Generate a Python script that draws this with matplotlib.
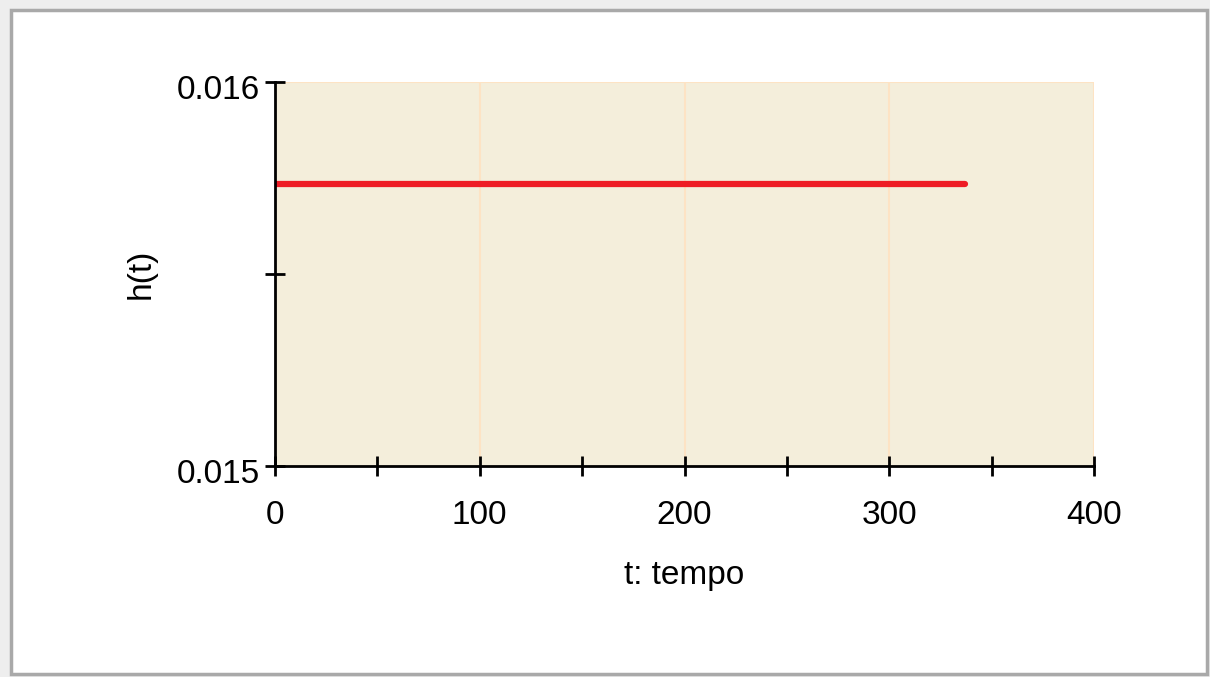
import numpy as np
import matplotlib.pyplot as plt
from matplotlib.patches import Rectangle
from matplotlib.transforms import ScaledTranslation

# data
t = [0, 337]
h = [0.015735, 0.015735]

x_ticks = [0, 50, 100, 150, 200, 250, 300, 350, 400]
x_labels = ['0', '', '100', '', '200', '', '300', '', '400']
y_ticks = [0.015, 0.0155, 0.016]
y_labels = ['0.015', '', '0.016']

plt.rcParams['font.family'] = ['Liberation Sans', 'DejaVu Sans']

W, H = 1210, 677
fig = plt.figure(figsize=(W / 100, H / 100), dpi=100)
fig.patch.set_facecolor('#eeeeee')

# grey frame around the whole thing
fig.patches.append(Rectangle((11 / W, 3 / H), (1207 - 11) / W, (667 - 3) / H,
                             transform=fig.transFigure, facecolor='white',
                             edgecolor='#a9a9a9', linewidth=2.5, zorder=-5))

ax = fig.add_axes([275 / W, 1 - 466 / H, (1094 - 275) / W, (466 - 82) / H])
ax.set_facecolor('#f4eedb')

ax.plot(t, h, color='#ee1c25', linewidth=4.5, solid_capstyle='round', zorder=3)

ax.set_xlim(0, 400)
ax.set_ylim(0.015, 0.016)
ax.set_xticks(x_ticks)
ax.set_xticklabels(x_labels)
ax.set_yticks(y_ticks)
ax.set_yticklabels(y_labels)

for v in [100, 200, 300, 400]:
    ax.axvline(v, color='#fde3c4', linewidth=1.5, zorder=1)
ax.axhline(0.016, color='#fde3c4', linewidth=1.5, zorder=1)

for s in ['top', 'right']:
    ax.spines[s].set_visible(False)
for s in ['left', 'bottom']:
    ax.spines[s].set_linewidth(2)
    ax.spines[s].set_zorder(4)

ax.tick_params(direction='inout', length=15, width=2, labelsize=24, colors='black')
ax.tick_params(axis='x', pad=17)
ax.tick_params(axis='y', pad=3)

# y labels sit a little low in the original
shift = ScaledTranslation(0, -5 / 100, fig.dpi_scale_trans)
for lab in ax.get_yticklabels():
    lab.set_transform(lab.get_transform() + shift)

ax.set_xlabel('t: tempo', fontsize=24, labelpad=21)
ax.set_ylabel('h(t)', fontsize=24, labelpad=15)

fig.savefig('out.png', dpi=100, facecolor=fig.get_facecolor())
